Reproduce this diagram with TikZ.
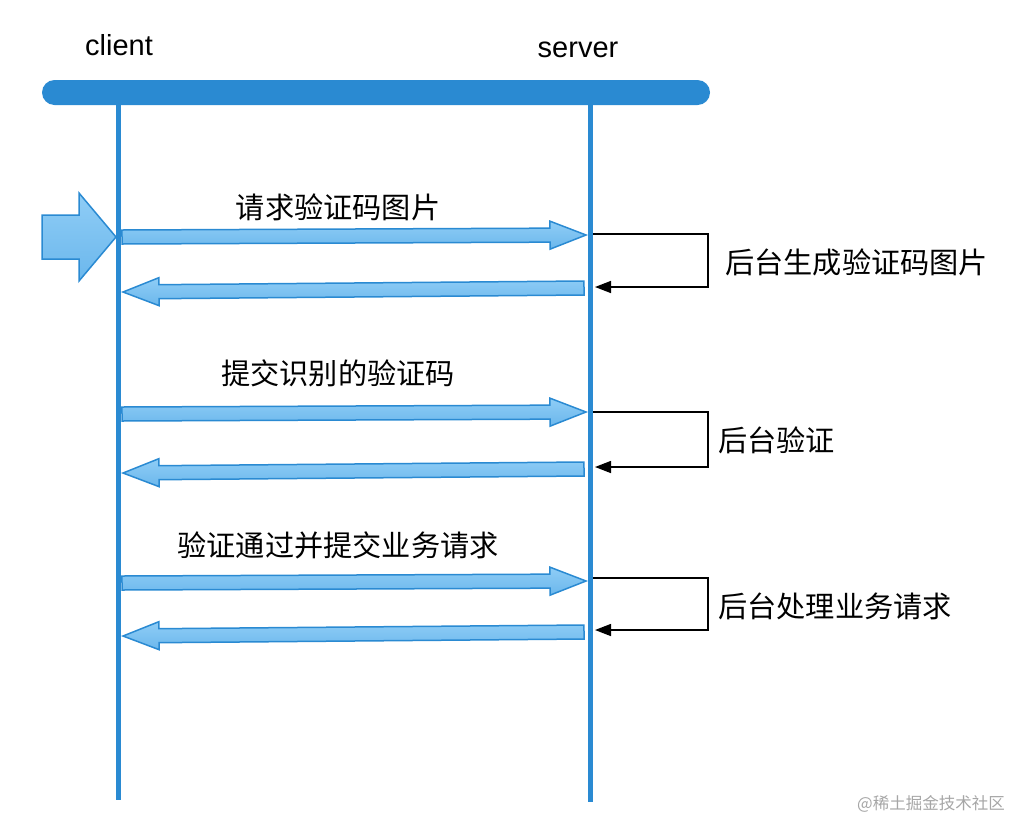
\documentclass[tikz,border=0pt]{standalone}
\usepackage{fontspec}
\setmainfont{Liberation Sans}
\newfontfamily\cjk{Noto Sans CJK SC}
\usetikzlibrary{calc,arrows.meta}
\definecolor{lineblue}{HTML}{2A8AD2}
\definecolor{fillhi}{HTML}{8FCDF6}
\definecolor{filllo}{HTML}{6BB7EC}
\definecolor{wmgray}{HTML}{A6A6A6}
\tikzset{
  lifeline/.style={draw=lineblue, line width=5pt},
  fatarrow/.style={draw=lineblue, line width=1.5pt, top color=fillhi, bottom color=filllo, line join=miter},
  selfloop/.style={draw=black, line width=1.5pt, -{Triangle[length=16pt,width=12pt]}},
  actor/.style={inner sep=0pt, font=\fontsize{29}{34}\selectfont},
  msg/.style={inner sep=0pt, font=\cjk\fontsize{29.2}{34}\selectfont},
  wm/.style={inner sep=0pt, text=wmgray, font=\cjk\fontsize{16.5}{20}\selectfont},
}
\newcommand\blockarrow[2]{%
  \coordinate (FAb) at ($(#2)!36pt!(#1)$);
  \path[fatarrow] ($(#1)!7pt!90:(#2)$) -- ($(FAb)!7pt!-90:(#1)$) -- ($(FAb)!14pt!-90:(#1)$) -- (#2)
    -- ($(FAb)!14pt!90:(#1)$) -- ($(FAb)!7pt!90:(#1)$) -- ($(#1)!7pt!-90:(#2)$) -- cycle;
}
\begin{document}
\begin{tikzpicture}[x=1pt,y=-1pt]
\useasboundingbox (0,0) rectangle (1027,817);
% top bar
\fill[lineblue, rounded corners=12.5pt] (42,80) rectangle (710,105);
% lifelines
\coordinate (cTop) at (118,104);
\coordinate (cBot) at (118,800);
\coordinate (sTop) at (590,104);
\coordinate (sBot) at (590,802);
\draw[lifeline] (cTop) -- (cBot);
\draw[lifeline] (sTop) -- (sBot);
% actor labels
\node[actor, anchor=base] (client) at (119,55) {client};
\node[actor, anchor=base] (server) at (578,57) {server};
% entry arrow
\path[fatarrow] (42,215) -- (79,215) -- (79,193) -- (116,237) -- (79,281) -- (79,259) -- (42,259) -- cycle;
% messages
\coordinate (m1s) at (122,237); \coordinate (m1t) at (586,235);
\coordinate (r1s) at (584,288); \coordinate (r1t) at (123,292);
\coordinate (m2s) at (122,414); \coordinate (m2t) at (586,412);
\coordinate (r2s) at (584,469); \coordinate (r2t) at (123,473);
\coordinate (m3s) at (122,583); \coordinate (m3t) at (586,581);
\coordinate (r3s) at (584,632); \coordinate (r3t) at (123,636);
\blockarrow{m1s}{m1t}
\blockarrow{r1s}{r1t}
\blockarrow{m2s}{m2t}
\blockarrow{r2s}{r2t}
\blockarrow{m3s}{m3t}
\blockarrow{r3s}{r3t}
% self loops
\coordinate (l1a) at (593,234); \coordinate (l1b) at (595,287);
\coordinate (l2a) at (593,412); \coordinate (l2b) at (595,467);
\coordinate (l3a) at (593,578); \coordinate (l3b) at (595,630);
\draw[selfloop] (l1a) -- ++(115,0) |- (l1b);
\draw[selfloop] (l2a) -- ++(115,0) |- (l2b);
\draw[selfloop] (l3a) -- ++(115,0) |- (l3b);
% labels
\node[msg, anchor=base] (t1) at (338,218) {请求验证码图片};
\node[msg, anchor=base west] (p1) at (725,273) {后台生成验证码图片};
\node[msg, anchor=base] (t2) at (338,384) {提交识别的验证码};
\node[msg, anchor=base west] (p2) at (718,451) {后台验证};
\node[msg, anchor=base] (t3) at (338,556) {验证通过并提交业务请求};
\node[msg, anchor=base west] (p3) at (718,617) {后台处理业务请求};
\node[wm, anchor=base east] (wmk) at (1005,809) {@稀土掘金技术社区};
\end{tikzpicture}
\end{document}
